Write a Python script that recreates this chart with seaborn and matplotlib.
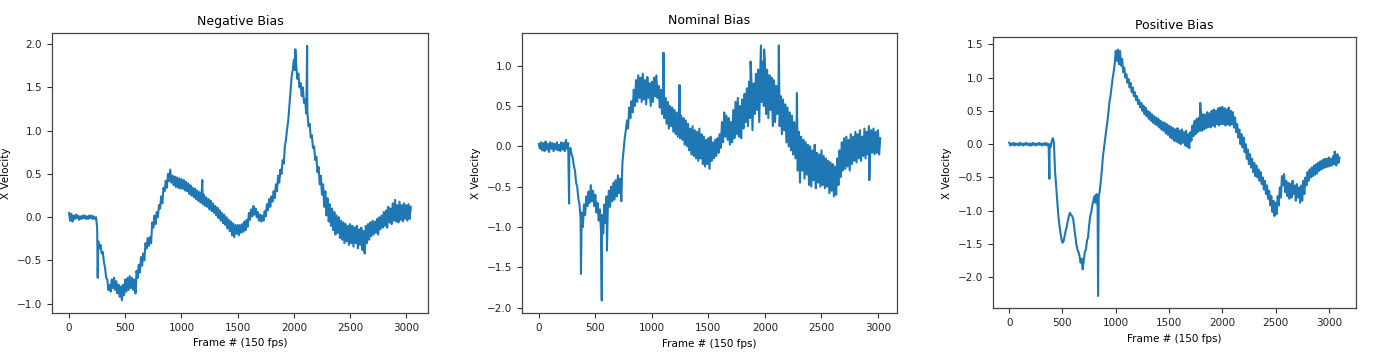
import numpy as np
import pandas as pd
import seaborn as sns
import matplotlib
matplotlib.use("Agg")
import matplotlib.pyplot as plt


# x velocity every 10 frames (150 fps), one row = 200 frames
negative_bias = [
    0.05, -0.04, 0.04, -0.05, 0.02, -0.02, 0.03, -0.01, 0.02, -0.03, 0.01, -0.02, 0.02, -0.01, 0.02, -0.02, 0.01, -0.02, 0.02, -0.01,
    0.02, -0.02, 0.01, -0.02, 0.00, -0.12, -0.28, -0.36, -0.32, -0.42, -0.40, -0.52, -0.58, -0.70, -0.72, -0.84, -0.78, -0.86, -0.72, -0.82,
    -0.70, -0.84, -0.74, -0.88, -0.78, -0.92, -0.80, -0.96, -0.78, -0.90, -0.72, -0.86, -0.70, -0.84, -0.68, -0.82, -0.70, -0.84, -0.72, -0.88,
    -0.62, -0.70, -0.55, -0.64, -0.46, -0.56, -0.42, -0.50, -0.30, -0.36, -0.24, -0.33, -0.23, -0.30, -0.06, -0.12, 0.02, -0.08, 0.06, 0.00,
    0.14, 0.10, 0.24, 0.16, 0.34, 0.30, 0.42, 0.34, 0.50, 0.42, 0.55, 0.40, 0.48, 0.37, 0.47, 0.35, 0.46, 0.34, 0.45, 0.33,
    0.44, 0.33, 0.43, 0.31, 0.41, 0.30, 0.39, 0.27, 0.37, 0.25, 0.34, 0.23, 0.33, 0.21, 0.31, 0.19, 0.29, 0.17, 0.27, 0.15,
    0.26, 0.13, 0.23, 0.12, 0.21, 0.09, 0.19, 0.07, 0.16, 0.05, 0.13, 0.02, 0.11, -0.01, 0.08, -0.04, 0.05, -0.07, 0.03, -0.09,
    0.00, -0.13, -0.03, -0.16, -0.05, -0.21, -0.07, -0.23, -0.09, -0.19, -0.09, -0.21, -0.09, -0.18, -0.08, -0.17, -0.05, -0.15, -0.03, -0.11,
    0.05, -0.03, 0.09, 0.01, 0.13, 0.03, 0.10, 0.00, 0.06, -0.04, 0.03, -0.05, 0.02, -0.04, 0.07, 0.01, 0.15, 0.08, 0.21, 0.12,
    0.24, 0.18, 0.30, 0.22, 0.38, 0.30, 0.48, 0.40, 0.55, 0.50, 0.66, 0.62, 0.82, 0.90, 1.02, 1.12, 1.28, 1.45, 1.62, 1.70,
    1.82, 1.70, 1.78, 1.60, 1.66, 1.50, 1.55, 1.40, 1.50, 1.32, 1.36, 1.20, 1.22, 1.05, 1.08, 0.92, 0.95, 0.80, 0.82, 0.66,
    0.70, 0.52, 0.58, 0.38, 0.48, 0.26, 0.38, 0.12, 0.30, 0.02, 0.22, -0.05, 0.15, -0.10, 0.10, -0.15, 0.06, -0.20, 0.02, -0.18,
    0.00, -0.24, -0.04, -0.26, -0.06, -0.30, -0.08, -0.28, -0.10, -0.32, -0.08, -0.30, -0.10, -0.34, -0.12, -0.30, -0.10, -0.36, -0.14, -0.32,
    -0.12, -0.38, -0.16, -0.42, -0.10, -0.30, -0.08, -0.26, -0.06, -0.22, -0.04, -0.20, -0.05, -0.18, -0.02, -0.20, 0.00, -0.14, 0.02, -0.12,
    0.06, -0.10, 0.08, -0.12, 0.12, -0.06, 0.10, -0.08, 0.16, -0.04, 0.20, -0.05, 0.14, -0.06, 0.18, -0.03, 0.14, -0.05, 0.16, -0.02,
    0.14, -0.04, 0.15, -0.02, 0.12,
]
negative_spike_frames = [255, 593, 1185, 2013, 2118]
negative_spike_values = [-0.70, -0.88, 0.43, 1.94, 1.98]

nominal_bias = [
    0.03, -0.03, 0.05, -0.05, 0.04, -0.06, 0.06, -0.04, 0.03, -0.07, 0.05, -0.03, 0.04, -0.06, 0.03, -0.04, 0.05, -0.05, 0.02, -0.06,
    0.05, -0.04, 0.04, -0.06, 0.08, -0.03, 0.04, -0.04, -0.02, -0.10, -0.14, -0.24, -0.30, -0.45, -0.50, -0.65, -0.72, -0.90, -0.82, -1.00,
    -0.72, -0.85, -0.62, -0.74, -0.56, -0.70, -0.48, -0.68, -0.55, -0.74, -0.60, -0.82, -0.70, -0.92, -0.78, -1.05, -0.85, -1.08, -0.72, -0.95,
    -0.62, -0.80, -0.55, -0.75, -0.50, -0.68, -0.45, -0.66, -0.42, -0.62, -0.36, -0.58, -0.40, -0.68, -0.20, -0.05, 0.10, 0.20, 0.32, 0.22,
    0.48, 0.35, 0.56, 0.42, 0.70, 0.50, 0.82, 0.55, 0.88, 0.60, 0.85, 0.55, 0.90, 0.58, 0.82, 0.52, 0.86, 0.60, 0.78, 0.50,
    0.80, 0.55, 0.85, 0.62, 0.88, 0.60, 0.75, 0.48, 0.70, 0.40, 0.65, 0.35, 0.60, 0.28, 0.55, 0.22, 0.50, 0.25, 0.48, 0.18,
    0.45, 0.15, 0.42, 0.12, 0.40, 0.10, 0.38, 0.08, 0.35, 0.02, 0.32, 0.00, 0.28, -0.05, 0.22, -0.10, 0.25, -0.12, 0.20, -0.15,
    0.18, -0.18, 0.22, -0.15, 0.15, -0.22, 0.12, -0.25, 0.08, -0.22, 0.10, -0.28, 0.12, -0.18, 0.05, -0.15, 0.08, -0.12, 0.10, -0.08,
    0.15, -0.02, 0.30, 0.05, 0.42, 0.12, 0.38, 0.08, 0.35, 0.02, 0.30, 0.05, 0.45, 0.10, 0.55, 0.15, 0.60, 0.12, 0.50, 0.10,
    0.58, 0.22, 0.65, 0.30, 0.72, 0.25, 0.80, 0.35, 0.85, 0.20, 0.78, 0.40, 0.90, 0.45, 0.95, 0.30, 1.00, 0.55, 1.05, 0.50,
    1.02, 0.40, 0.95, 0.35, 0.88, 0.45, 0.85, 0.25, 0.82, 0.30, 0.75, 0.40, 0.70, 0.25, 0.62, 0.15, 0.58, 0.20, 0.52, 0.05,
    0.48, 0.00, 0.42, -0.05, 0.38, -0.10, 0.30, -0.15, 0.25, -0.30, 0.18, -0.45, 0.12, -0.30, 0.08, -0.40, 0.05, -0.35, 0.02, -0.48,
    0.00, -0.50, -0.05, -0.42, 0.02, -0.52, -0.08, -0.45, -0.10, -0.50, -0.05, -0.48, -0.12, -0.52, -0.15, -0.50, -0.18, -0.58, -0.20, -0.55,
    -0.22, -0.62, -0.25, -0.60, -0.15, -0.48, -0.05, -0.38, 0.05, -0.30, 0.10, -0.28, 0.12, -0.25, 0.08, -0.30, 0.15, -0.22, 0.12, -0.18,
    0.18, -0.20, 0.15, -0.15, 0.20, -0.18, 0.12, -0.12, 0.22, -0.15, 0.18, -0.10, 0.25, -0.12, 0.20, -0.08, 0.22, -0.10, 0.18, -0.08,
    0.20, -0.10, 0.10,
]
nominal_spike_frames = [268, 373, 557, 603, 1103, 1245, 1873, 1965, 1993, 2123, 2283, 2923]
nominal_spike_values = [-0.71, -1.58, -1.91, -1.29, 1.16, 0.76, 1.05, 1.25, 1.20, 1.25, 0.66, -0.42]

positive_bias = [
    0.02, -0.02, 0.01, -0.01, 0.02, -0.02, 0.01, -0.01, 0.01, -0.02, 0.02, -0.01, 0.01, -0.02, 0.01, -0.01, 0.02, -0.01, 0.01, -0.02,
    0.01, -0.02, 0.02, -0.01, 0.01, -0.02, 0.01, -0.01, 0.02, -0.01, 0.01, -0.02, 0.01, -0.01, 0.02, -0.02, 0.01, -0.02, 0.00, -0.04,
    0.05, 0.09, 0.02, -0.40, -0.62, -0.85, -1.05, -1.20, -1.32, -1.42, -1.48, -1.46, -1.38, -1.30, -1.24, -1.15, -1.08, -1.03, -1.06, -1.08,
    -1.12, -1.25, -1.38, -1.50, -1.58, -1.62, -1.68, -1.78, -1.72, -1.88, -1.74, -1.62, -1.58, -1.45, -1.40, -1.22, -1.08, -1.02, -0.92, -0.85,
    -0.78, -0.88, -0.75, -0.95, -0.80, -0.70, -0.55, -0.38, -0.18, -0.05, 0.08, 0.20, 0.32, 0.46, 0.62, 0.72, 0.85, 0.98, 1.08, 1.20,
    1.40, 1.25, 1.42, 1.20, 1.40, 1.18, 1.28, 1.08, 1.15, 1.00, 1.05, 0.92, 0.98, 0.85, 0.92, 0.78, 0.85, 0.72, 0.78, 0.66,
    0.72, 0.60, 0.66, 0.55, 0.62, 0.50, 0.58, 0.45, 0.55, 0.42, 0.50, 0.38, 0.48, 0.35, 0.45, 0.32, 0.42, 0.30, 0.40, 0.28,
    0.38, 0.25, 0.35, 0.22, 0.33, 0.20, 0.32, 0.16, 0.30, 0.14, 0.28, 0.10, 0.26, 0.08, 0.24, 0.05, 0.22, 0.04, 0.24, 0.02,
    0.20, 0.00, 0.22, 0.02, 0.18, -0.02, 0.20, -0.04, 0.15, -0.06, 0.18, 0.05, 0.28, 0.12, 0.35, 0.15, 0.38, 0.18, 0.40, 0.20,
    0.42, 0.20, 0.45, 0.22, 0.44, 0.24, 0.48, 0.26, 0.46, 0.25, 0.50, 0.28, 0.52, 0.26, 0.50, 0.30, 0.54, 0.28, 0.55, 0.30,
    0.56, 0.30, 0.54, 0.28, 0.52, 0.30, 0.55, 0.28, 0.50, 0.30, 0.48, 0.25, 0.40, 0.18, 0.30, 0.10, 0.22, 0.00, 0.15, -0.05,
    0.10, -0.12, 0.00, -0.22, -0.08, -0.30, -0.15, -0.35, -0.22, -0.42, -0.28, -0.48, -0.32, -0.50, -0.38, -0.55, -0.42, -0.60, -0.50, -0.68,
    -0.55, -0.75, -0.62, -0.82, -0.70, -0.92, -0.78, -1.02, -0.85, -1.08, -0.88, -1.05, -0.78, -0.92, -0.65, -0.80, -0.48, -0.62, -0.45, -0.72,
    -0.55, -0.78, -0.58, -0.82, -0.60, -0.80, -0.55, -0.75, -0.62, -0.85, -0.60, -0.80, -0.65, -0.88, -0.62, -0.85, -0.55, -0.75, -0.50, -0.62,
    -0.42, -0.55, -0.38, -0.50, -0.35, -0.48, -0.32, -0.46, -0.30, -0.44, -0.28, -0.40, -0.26, -0.38, -0.24, -0.36, -0.22, -0.35, -0.22, -0.34,
    -0.20, -0.33, -0.22, -0.32, -0.18, -0.30, -0.20, -0.32, -0.15, -0.28, -0.20,
]
positive_spike_frames = [377, 834, 1793, 3055]
positive_spike_values = [-0.52, -2.28, 0.62, -0.11]

titles = ["Negative Bias", "Nominal Bias", "Positive Bias"]


def build_frame(values, spike_frames, spike_values):
    frames = np.arange(len(values)) * 10
    df = pd.DataFrame({
        "frame": np.concatenate([frames, spike_frames]),
        "velocity": np.concatenate([values, spike_values]),
    })
    return df.sort_values("frame", kind="stable").reset_index(drop=True)


def draw_panel(ax, df, title):
    sns.lineplot(data=df, x="frame", y="velocity", ax=ax, color="#1f77b4",
                 linewidth=1.5, estimator=None, errorbar=None)
    ax.set_title(title, fontsize=9)
    ax.set_xlabel("Frame # (150 fps)", fontsize=7.5)
    ax.set_ylabel("X Velocity", fontsize=7.5)
    ax.set_xticks([0, 500, 1000, 1500, 2000, 2500, 3000])
    ax.tick_params(labelsize=7.5, color="#333333", labelcolor="#222222")
    for spine in ax.spines.values():
        spine.set_color("#444444")
        spine.set_linewidth(0.9)


if __name__ == "__main__":
    fig = plt.figure(figsize=(13.82, 3.63), dpi=100)
    positions = [
        [0.0376, 0.1377, 0.2720, 0.7710],
        [0.3775, 0.1370, 0.2718, 0.7730],
        [0.7183, 0.1507, 0.2629, 0.7466],
    ]
    data = [
        build_frame(negative_bias, negative_spike_frames, negative_spike_values),
        build_frame(nominal_bias, nominal_spike_frames, nominal_spike_values),
        build_frame(positive_bias, positive_spike_frames, positive_spike_values),
    ]
    for pos, df, title in zip(positions, data, titles):
        ax = fig.add_axes(pos)
        draw_panel(ax, df, title)
    fig.savefig("out.png", dpi=100, facecolor="white")
